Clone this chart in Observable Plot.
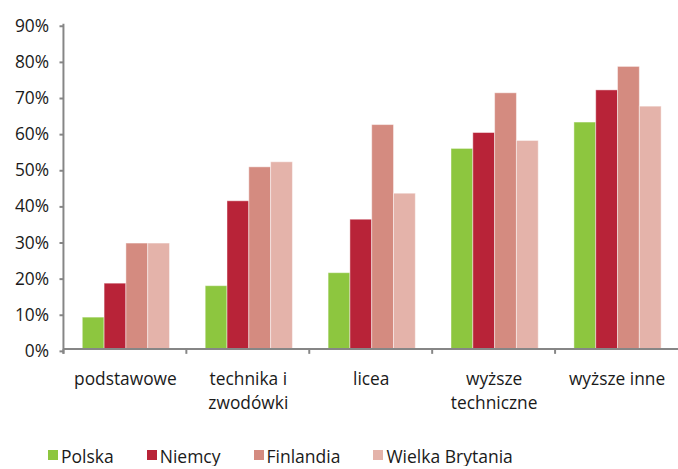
<!DOCTYPE html>
<html>
<head>
<meta charset="utf-8">
<script src="https://cdn.jsdelivr.net/npm/d3@7"></script>
<script src="https://cdn.jsdelivr.net/npm/@observablehq/plot@0.6"></script>
<style>
  html, body { margin: 0; padding: 0; overflow: hidden; background: #fff; }
  #chart svg { display: block; }
  .legend {
    display: flex;
    padding: 12px 0 0 48px;
    font: 17.5px "Open Sans", sans-serif;
    line-height: 1;
    color: #1a1a1a;
    white-space: nowrap;
  }
  .legend .item { display: flex; align-items: flex-start; margin-right: 33px; }
  .legend .swatch { width: 10px; height: 10px; margin: 2px 3px 0 0; }
</style>
</head>
<body>
<div id="chart"></div>
<div class="legend" id="legend"></div>
<script>
// Education levels (facets) and countries (bars within each facet)
const categories = ["podstawowe", "technika i\nzwodówki", "licea", "wyższe\ntechniczne", "wyższe inne"];
const series = ["Polska", "Niemcy", "Finlandia", "Wielka Brytania"];

// Shares in percent, one value per education level
const polska = [8.8, 17.5, 21.1, 55.5, 62.8];
const niemcy = [18.2, 41.0, 35.9, 59.9, 71.7];
const finlandia = [29.3, 50.4, 62.1, 70.9, 78.2];
const wielkaBrytania = [29.3, 51.8, 43.1, 57.7, 67.2];

const colors = ["#8dc63f", "#b82338", "#d48b80", "#e4b3aa"];
const yTicks = [0, 10, 20, 30, 40, 50, 60, 70, 80, 90];

const valuesBySeries = [polska, niemcy, finlandia, wielkaBrytania];
const rows = [];
categories.forEach((c, i) => {
  series.forEach((s, j) => rows.push({category: c, country: s, value: valuesBySeries[j][i]}));
});

const axisColor = "#868686";
const font = "'Open Sans', sans-serif";

const chart = Plot.plot({
  width: 684,
  height: 440,
  marginLeft: 64,
  marginRight: 0,
  marginTop: 24,
  marginBottom: 88,
  style: {fontFamily: font, fontSize: "17.5px", color: "#1a1a1a", background: "#fff"},
  fx: {domain: categories, padding: 0, label: null, axis: null},
  x: {domain: series, paddingInner: 0, paddingOuter: 0.79, align: 0.54, axis: null},
  y: {domain: [0, 90], label: null},
  color: {domain: series, range: colors},
  marks: [
    Plot.barY(rows, {
      fx: "category", x: "country", y: "value", fill: "country",
      stroke: "#fff", strokeOpacity: 0.45, strokeWidth: 1
    }),
    Plot.axisY({
      ticks: yTicks, tickFormat: d => d + "%", tickSize: 4, tickPadding: 11,
      stroke: axisColor, strokeWidth: 2, fill: "#1a1a1a", label: null, dy: 2
    }),
    Plot.axisFx({
      anchor: "bottom", tickSize: 0, tickPadding: 19, lineHeight: 1.36, label: null, fill: "#1a1a1a"
    })
  ]
});

document.getElementById("chart").appendChild(chart);

// Axis lines and group-boundary ticks, placed with the plot's own scales
const fxScale = chart.scale("fx");
const yScale = chart.scale("y");
const y0 = yScale.apply(0);
const yTop = yScale.apply(90);
const [fxStart, fxEnd] = fxScale.range;
const svg = d3.select(chart);
const g = svg.append("g").attr("stroke", axisColor).attr("stroke-width", 2).attr("fill", "none");
g.append("line").attr("x1", fxStart).attr("x2", fxStart).attr("y1", yTop).attr("y2", y0 + 5);
g.append("line").attr("x1", fxStart).attr("x2", fxEnd).attr("y1", y0).attr("y2", y0);
categories.forEach(c => {
  const x = fxScale.apply(c);
  g.append("line").attr("x1", x).attr("x2", x).attr("y1", y0).attr("y2", y0 + 5);
});

// Legend below the chart
const legend = d3.select("#legend");
series.forEach((s, i) => {
  const item = legend.append("div").attr("class", "item");
  item.append("div").attr("class", "swatch").style("background", colors[i]);
  item.append("span").text(s);
});
</script>
</body>
</html>
